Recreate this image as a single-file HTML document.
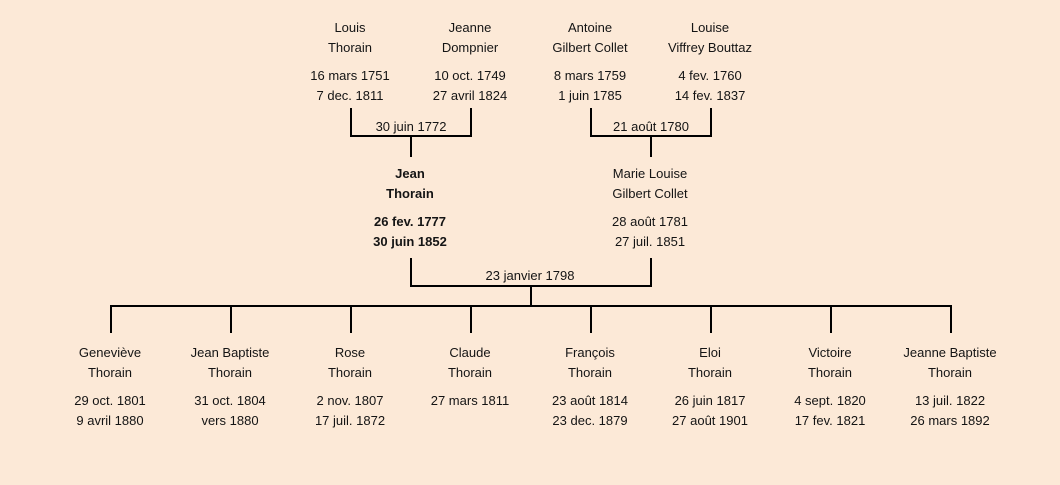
<!DOCTYPE html>
<html>
<head>
<meta charset="utf-8">
<style>
html,body{margin:0;padding:0;background:#fce9d7;}
svg{display:block;}
text{font-family:"Liberation Sans",sans-serif;font-size:13px;fill:#141414;text-anchor:middle;}
.b{font-weight:bold;}
</style>
</head>
<body>
<svg width="1060" height="485" viewBox="0 0 1060 485" xmlns="http://www.w3.org/2000/svg">
<rect width="1060" height="485" fill="#fce9d7"/>
<g stroke="#000" stroke-width="2" fill="none">
  <!-- left grandparents -->
  <path d="M351 108 V136 H471 V108"/>
  <path d="M411 136 V157"/>
  <!-- right grandparents -->
  <path d="M591 108 V136 H711 V108"/>
  <path d="M651 136 V157"/>
  <!-- parents -->
  <path d="M411 258 V286 H651 V258"/>
  <path d="M531 286 V306"/>
  <!-- children bar -->
  <path d="M111 333 V306 H951 V333"/>
  <path d="M231 306 V333"/>
  <path d="M351 306 V333"/>
  <path d="M471 306 V333"/>
  <path d="M591 306 V333"/>
  <path d="M711 306 V333"/>
  <path d="M831 306 V333"/>
</g>

<!-- grandparents -->
<text x="350" y="32">Louis</text>
<text x="350" y="52">Thorain</text>
<text x="350" y="80">16 mars 1751</text>
<text x="350" y="100">7 dec. 1811</text>

<text x="470" y="32">Jeanne</text>
<text x="470" y="52">Dompnier</text>
<text x="470" y="80">10 oct. 1749</text>
<text x="470" y="100">27 avril 1824</text>

<text x="590" y="32">Antoine</text>
<text x="590" y="52">Gilbert Collet</text>
<text x="590" y="80">8 mars 1759</text>
<text x="590" y="100">1 juin 1785</text>

<text x="710" y="32">Louise</text>
<text x="710" y="52">Viffrey Bouttaz</text>
<text x="710" y="80">4 fev. 1760</text>
<text x="710" y="100">14 fev. 1837</text>

<text x="411" y="131">30 juin 1772</text>
<text x="651" y="131">21 août 1780</text>

<!-- parents -->
<text class="b" x="410" y="178">Jean</text>
<text class="b" x="410" y="198">Thorain</text>
<text class="b" x="410" y="226">26 fev. 1777</text>
<text class="b" x="410" y="246">30 juin 1852</text>

<text x="650" y="178">Marie Louise</text>
<text x="650" y="198">Gilbert Collet</text>
<text x="650" y="226">28 août 1781</text>
<text x="650" y="246">27 juil. 1851</text>

<text x="530" y="280">23 janvier 1798</text>

<!-- children -->
<text x="110" y="357">Geneviève</text>
<text x="110" y="377">Thorain</text>
<text x="110" y="405">29 oct. 1801</text>
<text x="110" y="425">9 avril 1880</text>

<text x="230" y="357">Jean Baptiste</text>
<text x="230" y="377">Thorain</text>
<text x="230" y="405">31 oct. 1804</text>
<text x="230" y="425">vers 1880</text>

<text x="350" y="357">Rose</text>
<text x="350" y="377">Thorain</text>
<text x="350" y="405">2 nov. 1807</text>
<text x="350" y="425">17 juil. 1872</text>

<text x="470" y="357">Claude</text>
<text x="470" y="377">Thorain</text>
<text x="470" y="405">27 mars 1811</text>

<text x="590" y="357">François</text>
<text x="590" y="377">Thorain</text>
<text x="590" y="405">23 août 1814</text>
<text x="590" y="425">23 dec. 1879</text>

<text x="710" y="357">Eloi</text>
<text x="710" y="377">Thorain</text>
<text x="710" y="405">26 juin 1817</text>
<text x="710" y="425">27 août 1901</text>

<text x="830" y="357">Victoire</text>
<text x="830" y="377">Thorain</text>
<text x="830" y="405">4 sept. 1820</text>
<text x="830" y="425">17 fev. 1821</text>

<text x="950" y="357">Jeanne Baptiste</text>
<text x="950" y="377">Thorain</text>
<text x="950" y="405">13 juil. 1822</text>
<text x="950" y="425">26 mars 1892</text>
</svg>
</body>
</html>
